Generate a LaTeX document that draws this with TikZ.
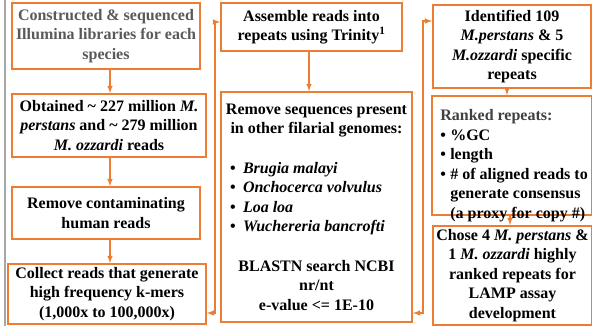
\documentclass[tikz,border=0pt]{standalone}
\usepackage{fontspec}
\setmainfont{Liberation Serif}
\definecolor{boxorange}{HTML}{ED7D31}
\definecolor{headgray}{HTML}{595959}
\definecolor{rankgray}{HTML}{404040}
\newcommand{\bul}[2][13pt]{\makebox[#1][l]{\textbullet}#2}

\begin{document}
\begin{tikzpicture}[x=1pt,y=-1pt,>=latex,
        box/.style={draw=boxorange,line width=1.8pt,align=center,inner sep=0pt,
                    font=\fontsize{16}{19.5}\selectfont\bfseries},
        flow/.style={draw=boxorange,line width=1.5pt,->}]
            \useasboundingbox (0,0) rectangle (592,326);
            \draw [gray!70,line width=2pt] ( 5,0 ) -- ( 5,326 );
            % left column
            \node [box,text=headgray,minimum width=188pt,minimum height=66pt] (constr) at ( 106,36 )
                    {Constructed \& sequenced\\Illumina libraries for each\\species};
            \node [box,minimum width=194pt,minimum height=63pt] (obtain) at ( 109,125.5 )
                    {Obtained \textasciitilde{} 227 million \textit{M.}\\\textit{perstans} and \textasciitilde{} 279 million\\\textit{M. ozzardi} reads};
            \node [box,minimum width=188pt,minimum height=52pt] (human) at ( 106,213 )
                    {Remove contaminating\\human reads};
            \node [box,minimum width=198pt,minimum height=60pt] (collect) at ( 107,294 )
                    {Collect reads that generate\\high frequency k-mers\\(1,000x to 100,000x)};
            % middle column
            \node [box,minimum width=181pt,minimum height=48pt] (assemble) at ( 311.5,27 )
                    {Assemble reads into\\repeats using Trinity\textsuperscript{1}};
            \node [box,minimum width=191pt,minimum height=230pt] (filter) at ( 316.5,207 )
                    {Remove sequences present\\in other filarial genomes:\\[20pt]
                     \makebox[173pt][l]{\bul{\textit{Brugia malayi}}}\\
                     \makebox[173pt][l]{\bul{\textit{Onchocerca volvulus}}}\\
                     \makebox[173pt][l]{\bul{\textit{Loa loa}}}\\
                     \makebox[173pt][l]{\bul{\textit{Wuchereria bancrofti}}}\\[20pt]
                     BLASTN search NCBI\\nr/nt\\e-value <= 1E-10};
            % right column
            \node [box,minimum width=158pt,minimum height=83pt] (found) at ( 512,46.5 )
                    {Identified 109\\\textit{M.perstans} \& 5\\\textit{M.ozzardi} specific\\repeats};
            \node [box,minimum width=160pt,minimum height=119pt] (rank) at ( 512,155.5 ) {};
            \node [anchor=west,align=left,inner sep=0pt,font=\fontsize{16}{19.5}\selectfont\bfseries]
                    (ranktxt) at ([xshift=9pt,yshift=-10pt]rank.west)
                    {\textcolor{rankgray}{Ranked repeats:}\\
                     \bul[10pt]{\%GC}\\
                     \bul[10pt]{length}\\
                     \bul[10pt]{\# of aligned reads to}\\
                     \hspace*{10pt}generate consensus\\
                     \hspace*{10pt}(a proxy for copy \#)};
            \node [box,minimum width=159pt,minimum height=99pt] (chose) at ( 512.5,275.5 )
                    {Chose 4 \textit{M. perstans} \&\\1 \textit{M. ozzardi} highly\\ranked repeats for\\LAMP assay\\development};
            % arrows
            \draw [flow] (constr.south -| 110,0) -- (obtain.north -| 110,0);
            \draw [flow] (obtain.south -| 110,0) -- (human.north -| 110,0);
            \draw [flow] (human.south -| 110,0) -- (collect.north -| 110,0);
            \draw [flow] (assemble.south -| 309,0) -- (filter.north -| 309,0);
            \draw [flow] (found.south -| 507,0) -- (rank.north -| 507,0);
            \draw [flow] (rank.south -| 510,0) -- (chose.north -| 510,0);
            \coordinate (abot) at ( 215,313 );
            \coordinate (atop) at ( 215,22 );
            \coordinate (bbot) at ( 423,313 );
            \coordinate (btop) at ( 423,21 );
            \draw [flow,<->] (collect.east |- abot) -- (abot) -- (atop) -- (assemble.west |- atop);
            \draw [flow,<->] (filter.east |- bbot) -- (bbot) -- (btop) -- (found.west |- btop);
        \end{tikzpicture}
\end{document}
